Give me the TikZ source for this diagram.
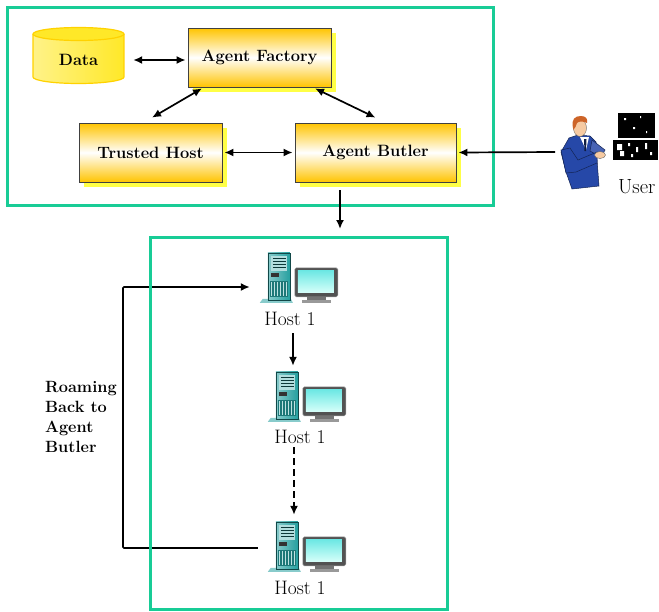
\documentclass[tikz,border=0pt]{standalone}
\usepackage{fontspec}
\usetikzlibrary{arrows.meta,shadows,calc}

\definecolor{frameteal}{RGB}{24,204,150}
\definecolor{gold}{RGB}{255,196,0}
\definecolor{shadowyel}{RGB}{255,255,70}
\definecolor{cylyel}{RGB}{255,232,40}
\definecolor{cyledge}{RGB}{255,210,0}
\definecolor{towerteal}{RGB}{38,160,160}
\definecolor{screentop}{RGB}{110,232,228}
\definecolor{screenbot}{RGB}{215,255,250}
\definecolor{suitblue}{RGB}{38,72,168}
\definecolor{skin}{RGB}{246,202,162}
\definecolor{hair}{RGB}{205,100,40}

\tikzset{
  frame/.style={draw=frameteal, line width=3pt},
  agentbox/.style={rectangle, draw=black!75, line width=0.8pt,
    top color=gold, bottom color=gold, middle color=white,
    general shadow={fill=shadowyel, shadow xshift=5pt, shadow yshift=-5pt},
    minimum height=59pt, inner sep=0pt,
    font=\bfseries\fontsize{16.4}{18}\selectfont},
  biarrow/.style={{Latex[length=9pt,width=8pt]}-{Latex[length=9pt,width=8pt]}, line width=1.7pt},
  arr/.style={-{Latex[length=9pt,width=8pt]}, line width=1.7pt},
  hostlabel/.style={anchor=base, inner sep=0pt, font=\fontsize{19.5}{22}\selectfont},
  iconbox/.style={rectangle, minimum width=78pt, minimum height=50pt, inner sep=0pt},
  hosticon/.pic={
    % tower foot
    \fill[towerteal!55!white] (0,50) -- (3,46) -- (31,46) -- (33,50) -- cycle;
    % tower case
    \fill[left color=towerteal!55!white, right color=towerteal] (8,0) rectangle (30,47);
    \draw[towerteal!45!black, line width=0.4pt] (8,0) rectangle (30,47);
    % drive bays
    \fill[towerteal!35!white] (11,3) rectangle (27,18);
    \foreach \yy in {5,8,11,14} \draw[towerteal!35!black, line width=0.6pt] (13,\yy) -- (26,\yy);
    \fill[black!80] (11,20) rectangle (19,24);
    % vent grille
    \fill[towerteal!75!black] (10,28) rectangle (28,44);
    \foreach \xx in {12,15,...,27} \draw[towerteal!30!white, line width=0.7pt] (\xx,29) -- (\xx,43);
    % monitor
    \fill[black!68, draw=black!40, line width=0.5pt, rounded corners=1.5pt] (35,15) rectangle (78,44);
    \shade[top color=screentop, bottom color=screenbot] (38,18) rectangle (74,40);
    \fill[black!55] (47,44) rectangle (66,47);
    \fill[black!40] (42,47) rectangle (71,50);
  }
}

\begin{document}
\begin{tikzpicture}[x=1pt,y=-1pt]
\useasboundingbox (0,0) rectangle (659,611);
\fill[white] (0,0) rectangle (659,611);

% ---------- agent platform ----------
\draw[frame] (7,7) rectangle (493,205);

% data store
\path[left color=cylyel!55!white, middle color=white, right color=cylyel]
  (33,34) -- (33,77) arc[start angle=180, end angle=0, x radius=45.5, y radius=6.5] -- (124,34) -- cycle;
\draw[cyledge, line width=1.2pt]
  (33,34) -- (33,77) arc[start angle=180, end angle=0, x radius=45.5, y radius=6.5] -- (124,34);
\filldraw[fill=cylyel, draw=cyledge, line width=1.2pt] (78.5,34) ellipse[x radius=45.5, y radius=6.5];
\node[minimum width=91pt, minimum height=40pt, inner sep=0pt,
      font=\bfseries\fontsize{16.4}{18}\selectfont] (data) at (78.5,60) {Data};

\node[agentbox, minimum width=143pt] (factory) at (259.5,57.5) {Agent Factory};
\node[agentbox, minimum width=143pt] (trusted) at (150.5,152.5) {Trusted Host};
\node[agentbox, minimum width=161pt] (butler)  at (375.5,152.5) {Agent Butler};

\draw[biarrow] ([xshift=9pt]data.east) -- ([xshift=-2pt]data.east -| factory.west);
\draw[biarrow] ([xshift=-57.5pt,yshift=-1pt]factory.south) -- ([xshift=1.5pt,yshift=5pt]trusted.north);
\draw[biarrow] ([xshift=55.5pt,yshift=-1pt]factory.south) -- ([yshift=5pt]butler.north);
\draw[biarrow] ([xshift=2pt]trusted.east) -- ([xshift=-2pt]butler.west);

% ---------- user ----------
\coordinate (userarm) at (555,152);
\draw[arr] (userarm) -- ([xshift=2pt]butler.east);

% jacket
\filldraw[fill=suitblue, draw=suitblue!50!black, line width=0.5pt]
  (569,138) -- (578,135) -- (590,136) -- (596,142) -- (597,160) -- (599,186)
  -- (572,189) -- (566,172) -- (561,152) -- cycle;
% shirt and tie
\fill[white] (580,137) -- (589,137) -- (586,150) -- cycle;
\fill[suitblue!40!black] (584,139) -- (586.5,139) -- (586,151) -- (584.5,151) -- cycle;
% far arm
\filldraw[fill=suitblue!85!white, draw=suitblue!50!black, line width=0.5pt]
  (592,140) -- (605,150) -- (601,157) -- (590,151) -- cycle;
% near arm
\filldraw[fill=suitblue, draw=suitblue!50!black, line width=0.5pt]
  (561,150) -- (566,173) -- (576,172) -- (597,163) -- (597,152) -- (578,160) -- (570,148) -- cycle;
% hands
\filldraw[fill=skin, draw=black!60, line width=0.4pt] (600,155) ellipse[x radius=5.5, y radius=3.5];
% head
\filldraw[fill=skin, draw=black!60, line width=0.4pt] (580,128) ellipse[x radius=6.5, y radius=8.5];
\fill[hair] (573,128) .. controls (571,119) and (575,116) .. (581,116)
  .. controls (586,116) and (588,119) .. (587,123)
  .. controls (583,121) and (579,121) .. (577,123)
  .. controls (576,126) and (575,129) .. (573,130) -- cycle;

% photo block beside the user
\fill[black] (618,113) rectangle (655,138);
\fill[black] (613,140) rectangle (658,160);
\fill[white] (624,118) rectangle (626,120) (640,116) rectangle (641,118) (633,127) rectangle (635,129)
  (646,131) rectangle (647,133) (617,144) rectangle (622,150) (620,151) rectangle (624,156)
  (628,143) rectangle (630,146) (636,147) rectangle (638,152) (645,143) rectangle (647,149)
  (650,152) rectangle (652,155) (631,154) rectangle (633,157);
\node[anchor=base west, inner sep=0pt, font=\fontsize{20.5}{22}\selectfont] (user) at (618,193) {User};

% ---------- visited hosts ----------
\coordinate (net) at (340,229);
\draw[arr] ([yshift=-8pt]butler.south -| net) -- (net);

\node[iconbox] (i1) at (299,278) {};
\node[iconbox] (i2) at (307,397) {};
\node[iconbox] (i3) at (307,547) {};
\pic at (i1.north west) {hosticon};
\pic at (i2.north west) {hosticon};
\pic at (i3.north west) {hosticon};

\node[hostlabel] (h1) at (290,325) {Host 1};
\node[hostlabel] (h2) at (300,443) {Host 1};
\node[hostlabel] (h3) at (300,594) {Host 1};

\draw[arr] ([xshift=3pt,yshift=-8pt]h1.south) -- ([xshift=3pt,yshift=6pt]h1.south |- i2.north);
\draw[arr, dashed, dash pattern=on 7pt off 4pt] ([xshift=-6pt,yshift=-4pt]h2.south) -- ([xshift=-6pt,yshift=7pt]h2.south |- i3.north);

\coordinate (bend) at (123,287);
\draw[arr, rounded corners=1pt] ([xshift=-10pt,yshift=-1pt]i3.west) -| (bend) -- ([xshift=-10pt]bend -| i1.west);

\node[anchor=north west, align=left, inner sep=0pt,
      font=\bfseries\fontsize{16.3}{20}\selectfont] (roam) at (45,381) {Roaming\\Back to\\Agent\\Butler};

\draw[frame] (150,237) rectangle (447,609);
\end{tikzpicture}
\end{document}
